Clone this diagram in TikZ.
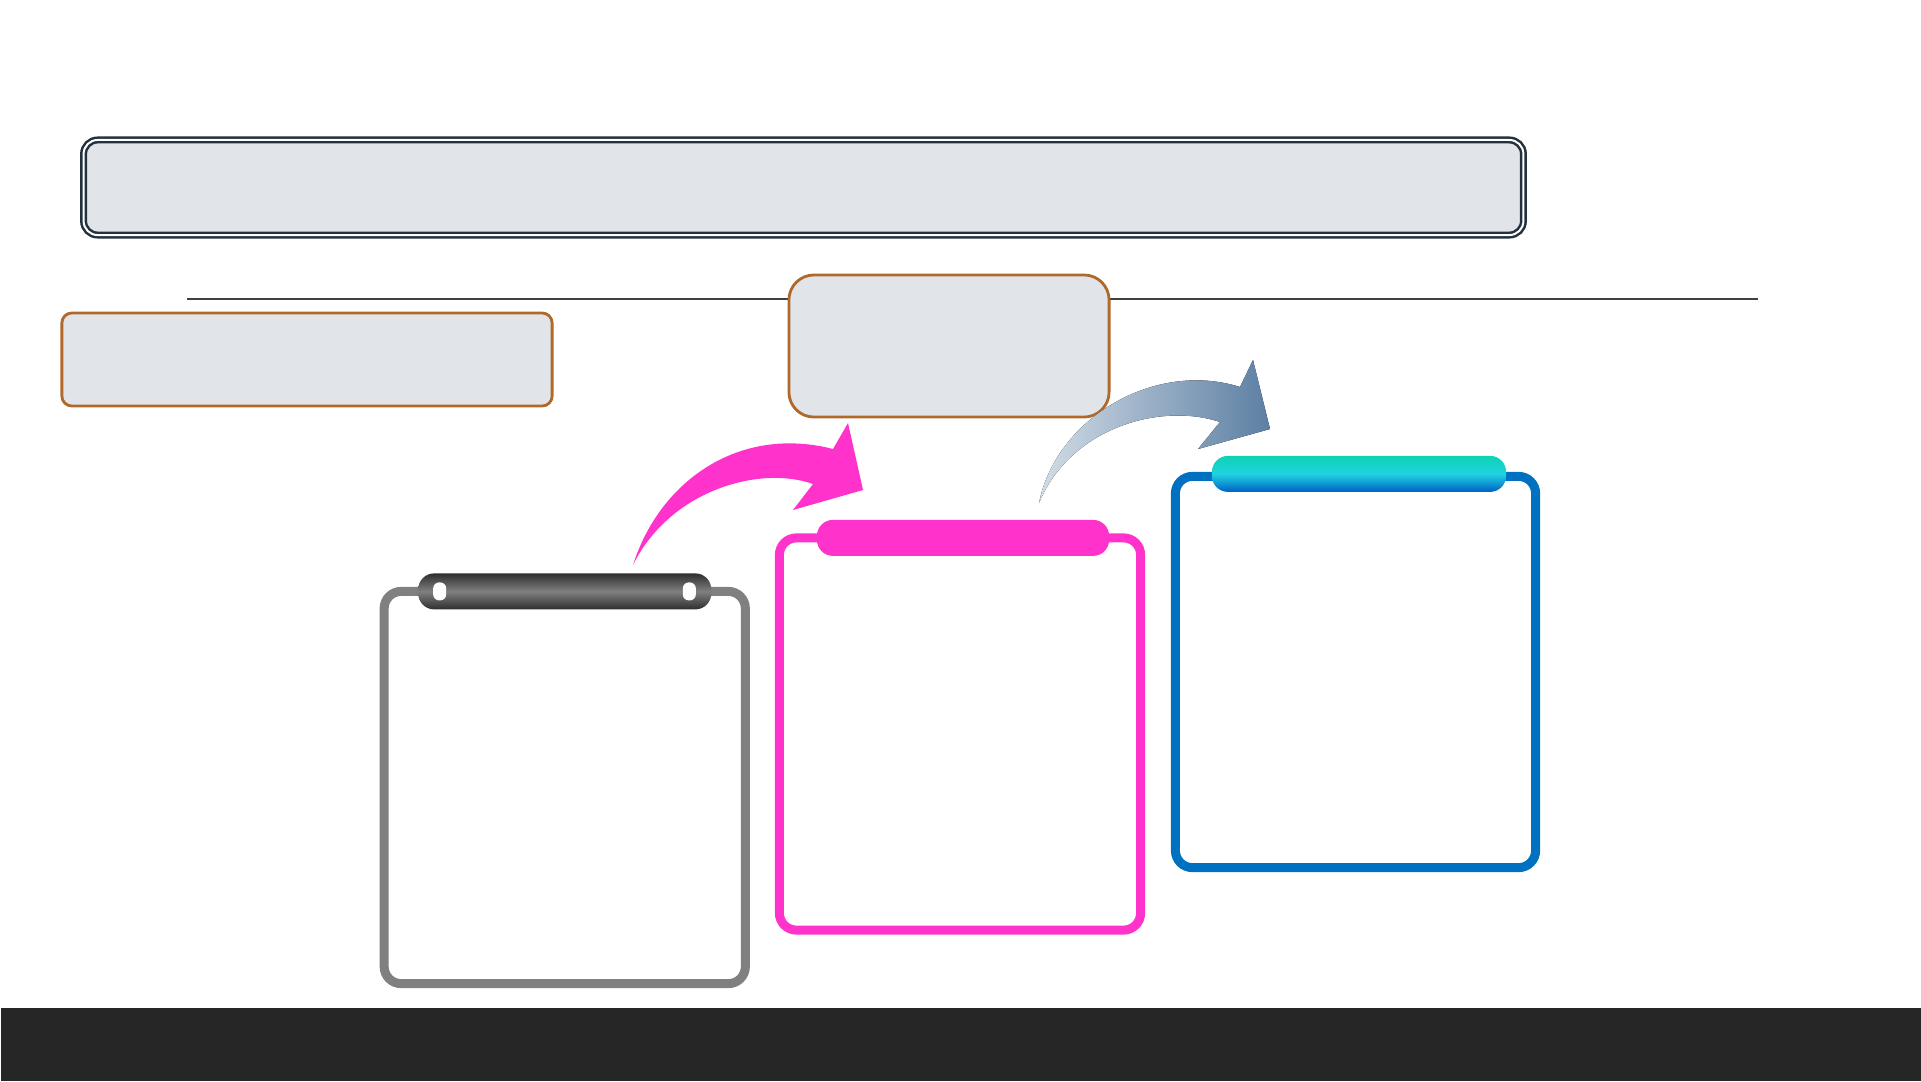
\documentclass[tikz,border=0pt]{standalone}
\usetikzlibrary{positioning,backgrounds}
\definecolor{panel}{HTML}{E1E5E9}
\definecolor{titleline}{HTML}{23313E}
\definecolor{brown}{HTML}{B0692B}
\definecolor{rule}{HTML}{404040}
\definecolor{stepgray}{HTML}{808080}
\definecolor{bardark}{HTML}{2E2E2E}
\definecolor{pink}{HTML}{FF33CC}
\definecolor{blue}{HTML}{0070C0}
\definecolor{tealtop}{HTML}{0ED2B4}
\definecolor{cyanmid}{HTML}{1FD3E0}
\definecolor{bluebot}{HTML}{0060C8}
\definecolor{footer}{HTML}{262626}
\definecolor{arrowlight}{HTML}{D2DCE6}
\definecolor{arrowdark}{HTML}{5C7FA3}
\begin{document}
\begin{tikzpicture}[x=0.01cm,y=-0.01cm,
  every node/.style={inner sep=0pt,outer sep=0pt},
  panelbox/.style={draw=brown,fill=panel,line width=0.028cm},
  stepbox/.style={fill=white,line width=0.09cm,rounded corners=0.17cm,
    minimum width=3.61cm,minimum height=3.92cm},
  headbar/.style={minimum width=2.93cm,minimum height=0.36cm,rounded corners=0.16cm},
  hole/.style={fill=white,minimum width=0.13cm,minimum height=0.18cm,rounded corners=0.06cm}]
\useasboundingbox (0,0) rectangle (1921,1081);

% title banner
\node[draw=titleline,double=white,line width=0.025cm,double distance=0.02cm,fill=panel,
  rounded corners=0.14cm,minimum width=14.39cm,minimum height=0.95cm] (title) at (803.5,187.5) {};

% rule behind the middle box
\coordinate (ruleL) at (187,299);
\coordinate (ruleR) at (1758,299);
\draw[rule,line width=0.022cm] (ruleL) -- (ruleR);

% side boxes
\node[panelbox,rounded corners=0.1cm,minimum width=4.90cm,minimum height=0.93cm] (note) at (307,359.5) {};
\node[panelbox,rounded corners=0.25cm,minimum width=3.20cm,minimum height=1.42cm] (callout) at (949,346) {};

% three steps
\node[stepbox,draw=stepgray] (grybox) at (564.75,787.5) {};
\node[headbar,top color=bardark,bottom color=bardark,middle color=stepgray] (gryhead) at (grybox.north) {};
\node[hole,right=0.15cm of gryhead.west] (holeL) {};
\node[hole,left=0.155cm of gryhead.east] (holeR) {};

\node[stepbox,draw=pink] (pnkbox) at (960,734) {};
\node[headbar,fill=pink,minimum width=2.92cm] (pnkhead) at ([xshift=0.03cm]pnkbox.north) {};

\node[stepbox,draw=blue,minimum width=3.60cm,minimum height=3.91cm] (blubox) at (1355.5,672) {};
\node[headbar,minimum width=2.94cm,top color=tealtop,bottom color=bluebot,middle color=cyanmid] (bluhead) at ([xshift=0.035cm,yshift=0.025cm]blubox.north) {};

% curved arrows
\fill[pink] (633,565) .. controls (660,480) and (740,425) .. (833,449)
  -- (848,423) -- (863,490) -- (793,510) -- (813,484)
  .. controls (760,465) and (670,490) .. (633,565) -- cycle;
\fill[left color=arrowlight,right color=arrowdark] (1039,503) .. controls (1056,418) and (1155,360) .. (1240,387)
  -- (1253,360) -- (1270,429) -- (1198,449) -- (1220,422)
  .. controls (1160,402) and (1070,428) .. (1039,503) -- cycle;

% footer bar
\fill[footer] (1,1008) rectangle (1921,1081);
\end{tikzpicture}
\end{document}
